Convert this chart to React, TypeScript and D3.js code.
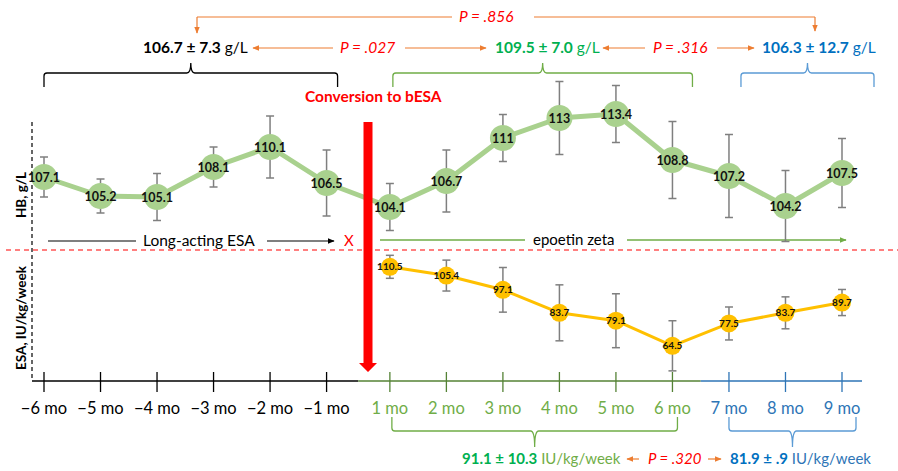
import React from "react";
import * as d3 from "d3";

const monthLabels = ["−6 mo", "−5 mo", "−4 mo", "−3 mo", "−2 mo", "−1 mo", "1 mo", "2 mo", "3 mo", "4 mo", "5 mo", "6 mo", "7 mo", "8 mo", "9 mo"];
const monthPhase = ["pre", "pre", "pre", "pre", "pre", "pre", "p1", "p1", "p1", "p1", "p1", "p1", "p2", "p2", "p2"];
const hbValues = [107.1, 105.2, 105.1, 108.1, 110.1, 106.5, 104.1, 106.7, 111, 113, 113.4, 108.8, 107.2, 104.2, 107.5];
const hbErrors = [2.0, 1.7, 2.35, 2.0, 3.1, 3.3, 2.35, 3.1, 2.35, 3.65, 2.85, 3.85, 4.15, 3.55, 3.45];
const esaMonthIndex = [6, 7, 8, 9, 10, 11, 12, 13, 14];
const esaValues = [110.5, 105.4, 97.1, 83.7, 79.1, 64.5, 77.5, 83.7, 89.7];
const esaErrors = [6.7, 9, 13, 16.3, 15.7, 14.6, 9.6, 9.3, 7.6];

const W = 898;
const H = 471;
const FONT = "Lato, 'Open Sans', sans-serif";
const ORANGE = "#ed7d31";
const RED = "#ff0000";
const GREEN_TXT = "#00b050";
const GREEN_LIGHT = "#70ad47";
const GREEN_DARK = "#548235";
const BLUE_TXT = "#0070c0";
const BLUE_AX = "#2e75b6";
const BLUE_BR = "#5b9bd5";
const HB_COL = "#a9d18e";
const ESA_COL = "#ffc000";
const ERR_COL = "#7f7f7f";

const GAP = 0.12;
const pos = (i: number) => i + (i >= 6 ? GAP : 0);
const x = d3.scaleLinear().domain([0, 14 + GAP]).range([44, 842]);
const xi = (i: number) => x(pos(i));
const yHB = d3.scaleLinear().domain([100, 115]).range([248, 98]);
const yESA = d3.scaleLinear().domain([44, 120]).range([381, 250.5]);

const AXIS_Y = 381;
const phaseColor: Record<string, string> = { pre: "#000", p1: GREEN_DARK, p2: BLUE_AX };
const labelColor: Record<string, string> = { pre: "#000", p1: GREEN_LIGHT, p2: BLUE_AX };

function bracket(x1: number, x2: number, yLine: number, endLen: number, tipLen: number) {
  const xm = (x1 + x2) / 2;
  const r = 3 * Math.sign(endLen);
  const t = 4;
  return `M${x1},${yLine + endLen} L${x1},${yLine + r} Q${x1},${yLine} ${x1 + 3},${yLine} L${xm - t},${yLine} Q${xm},${yLine} ${xm},${yLine + tipLen} Q${xm},${yLine} ${xm + t},${yLine} L${x2 - 3},${yLine} Q${x2},${yLine} ${x2},${yLine + r} L${x2},${yLine + endLen}`;
}

export default function App() {
  const hbLine = d3.line<number>().x((_, i) => xi(i)).y((d) => yHB(d))(hbValues) || "";
  const esaLine = d3.line<number>().x((_, i) => xi(esaMonthIndex[i])).y((d) => yESA(d))(esaValues) || "";

  const xPreEnd = (xi(5) + xi(6)) / 2;
  const xP1End = (xi(11) + xi(12)) / 2;
  const xEnd = xi(14) + 20;

  const errBar = (cx: number, y1: number, y2: number, key: string) => (
    <g key={key} stroke={ERR_COL} strokeWidth={1.5}>
      <line x1={cx} x2={cx} y1={y1} y2={y2} />
      <line x1={cx - 4} x2={cx + 4} y1={y1} y2={y1} />
      <line x1={cx - 4} x2={cx + 4} y1={y2} y2={y2} />
    </g>
  );

  return (
    <svg width={W} height={H} style={{ position: "absolute", left: 0, top: 0, background: "#fff" }} fontFamily={FONT}>
      <defs>
        <marker id="arrO" viewBox="0 0 10 10" refX="9" refY="5" markerWidth="7" markerHeight="7" orient="auto-start-reverse" markerUnits="userSpaceOnUse">
          <path d="M0,1 L10,5 L0,9 z" fill={ORANGE} />
        </marker>
        <marker id="arrK" viewBox="0 0 10 10" refX="9" refY="5" markerWidth="7" markerHeight="7" orient="auto" markerUnits="userSpaceOnUse">
          <path d="M0,1 L10,5 L0,9 z" fill="#000" />
        </marker>
        <marker id="arrG" viewBox="0 0 10 10" refX="9" refY="5" markerWidth="7" markerHeight="7" orient="auto" markerUnits="userSpaceOnUse">
          <path d="M0,1 L10,5 L0,9 z" fill={GREEN_LIGHT} />
        </marker>
      </defs>

      {/* top P = .856 connector */}
      <g stroke={ORANGE} strokeWidth={1.2} fill="none">
        <path d="M197,17 H452" />
        <path d="M197,17 V33" markerEnd="url(#arrO)" />
        <path d="M534,17 H815" />
        <path d="M815,17 V31" markerEnd="url(#arrO)" />
        <line x1={333} y1={48} x2={253} y2={48} markerEnd="url(#arrO)" />
        <line x1={405} y1={48} x2={486} y2={48} markerEnd="url(#arrO)" />
        <line x1={645} y1={48} x2={603} y2={48} markerEnd="url(#arrO)" />
        <line x1={717} y1={48} x2={754} y2={48} markerEnd="url(#arrO)" />
      </g>
      <text x={459} y={22} fill={RED} fontStyle="italic" fontSize={15.5}>P = .856</text>
      <text x={340} y={53} fill={RED} fontStyle="italic" fontSize={15.5}>P = .027</text>
      <text x={653} y={53} fill={RED} fontStyle="italic" fontSize={15.5}>P = .316</text>

      <text x={143} y={53} fontSize={15.5} fill="#000">
        <tspan fontWeight="bold">106.7 ± 7.3</tspan><tspan> g/L</tspan>
      </text>
      <text x={495} y={53} fontSize={15.5} fill={GREEN_TXT}>
        <tspan fontWeight="bold">109.5 ± 7.0</tspan><tspan> g/L</tspan>
      </text>
      <text x={762} y={53} fontSize={15.5} fill={BLUE_TXT}>
        <tspan fontWeight="bold">106.3 ± 12.7</tspan><tspan> g/L</tspan>
      </text>

      {/* top brackets */}
      <path d={bracket(xi(0), xi(5) + 11, 73, 14, -10)} stroke="#000" strokeWidth={1.3} fill="none" />
      <path d={bracket(xi(6) + 3, xi(11) + 20, 73, 14, -10)} stroke={GREEN_LIGHT} strokeWidth={1.3} fill="none" />
      <path d={bracket(xi(12) + 12, xi(14) + 32, 73, 14, -10)} stroke={BLUE_BR} strokeWidth={1.3} fill="none" />

      <text x={305} y={102} fill={RED} fontWeight="bold" fontSize={15.5}>Conversion to bESA</text>

      {/* y axis dashed */}
      <line x1={32} x2={32} y1={122} y2={AXIS_Y} stroke="#000" strokeWidth={1.2} strokeDasharray="4,3" />
      <text transform={`translate(26,195) rotate(-90)`} textAnchor="middle" fontSize={13.5} fontWeight="bold" fill="#000">HB, g/L</text>
      <text transform={`translate(26,318) rotate(-90)`} textAnchor="middle" fontSize={13.5} fontWeight="bold" fill="#000">ESA, IU/kg/week</text>

      {/* red dashed separator */}
      <line x1={6} x2={898} y1={250} y2={250} stroke={RED} strokeWidth={1.2} strokeDasharray="5,4" />

      {/* long-acting ESA arrow */}
      <line x1={48} x2={136} y1={241} y2={241} stroke="#000" strokeWidth={1.2} />
      <text x={143} y={246} fontSize={15.5} fill="#000">Long-acting ESA</text>
      <line x1={267} x2={334} y1={241} y2={241} stroke="#000" strokeWidth={1.2} markerEnd="url(#arrK)" />
      <text x={344} y={246} fontSize={15} fill={RED}>X</text>

      {/* epoetin zeta arrow */}
      <line x1={380} x2={525} y1={240} y2={240} stroke={GREEN_LIGHT} strokeWidth={1.3} />
      <text x={533} y={245} fontSize={15} fill="#000">epoetin zeta</text>
      <line x1={627} x2={846} y1={240} y2={240} stroke={GREEN_LIGHT} strokeWidth={1.3} markerEnd="url(#arrG)" />

      {/* HB series */}
      {hbValues.map((v, i) => errBar(xi(i), yHB(v + hbErrors[i]), yHB(v - hbErrors[i]), "hbe" + i))}
      <path d={hbLine} stroke={HB_COL} strokeWidth={5} fill="none" strokeLinejoin="round" />
      {hbValues.map((v, i) => (
        <circle key={"hbc" + i} cx={xi(i)} cy={yHB(v)} r={13} fill={HB_COL} />
      ))}
      {hbValues.map((v, i) => (
        <text key={"hbt" + i} x={xi(i)} y={yHB(v) + 4.5} textAnchor="middle" fontSize={12.5} fontWeight="bold" fill="#111">{String(v)}</text>
      ))}

      {/* ESA series */}
      {esaValues.map((v, i) => errBar(xi(esaMonthIndex[i]), yESA(v + esaErrors[i]), yESA(v - esaErrors[i]), "ese" + i))}
      <path d={esaLine} stroke={ESA_COL} strokeWidth={3} fill="none" strokeLinejoin="round" />
      {esaValues.map((v, i) => (
        <circle key={"esc" + i} cx={xi(esaMonthIndex[i])} cy={yESA(v)} r={9} fill={ESA_COL} />
      ))}
      {esaValues.map((v, i) => (
        <text key={"est" + i} x={xi(esaMonthIndex[i])} y={yESA(v) + 3.5} textAnchor="middle" fontSize={10} fontWeight="bold" fill="#111">{String(v)}</text>
      ))}

      {/* big red conversion arrow */}
      <path d="M363.5,122 H372.5 V363 H377 L368,372 L359,363 H363.5 Z" fill={RED} />

      {/* x axis */}
      <line x1={32} x2={xPreEnd} y1={AXIS_Y} y2={AXIS_Y} stroke="#000" strokeWidth={1.3} />
      <line x1={xPreEnd} x2={xP1End} y1={AXIS_Y} y2={AXIS_Y} stroke={GREEN_DARK} strokeWidth={1.3} />
      <line x1={xP1End} x2={xEnd} y1={AXIS_Y} y2={AXIS_Y} stroke={BLUE_AX} strokeWidth={1.3} />
      {monthLabels.map((m, i) => (
        <g key={"tk" + i}>
          <line x1={xi(i)} x2={xi(i)} y1={AXIS_Y - 9} y2={AXIS_Y + 11} stroke={phaseColor[monthPhase[i]]} strokeWidth={1.3} />
          <text x={xi(i)} y={414} textAnchor="middle" fontSize={16.5} fill={labelColor[monthPhase[i]]}>{m}</text>
        </g>
      ))}

      {/* bottom brackets */}
      <path d={bracket(xi(6) + 2, xi(11) + 5, 431, -14, 16)} stroke={GREEN_LIGHT} strokeWidth={1.3} fill="none" />
      <path d={bracket(xi(12), xi(14) + 14, 431, -14, 16)} stroke={BLUE_BR} strokeWidth={1.3} fill="none" />

      <text x={462} y={464} fontSize={15} fill={GREEN_TXT}>
        <tspan fontWeight="bold">91.1 ± 10.3</tspan><tspan fill={GREEN_LIGHT}> IU/kg/week</tspan>
      </text>
      <line x1={639} x2={627} y1={459} y2={459} stroke={ORANGE} strokeWidth={1.2} markerEnd="url(#arrO)" />
      <text x={648} y={464} fill={RED} fontStyle="italic" fontSize={15}>P = .320</text>
      <line x1={708} x2={721} y1={459} y2={459} stroke={ORANGE} strokeWidth={1.2} markerEnd="url(#arrO)" />
      <text x={730} y={464} fontSize={15} fill={BLUE_TXT}>
        <tspan fontWeight="bold">81.9 ± .9</tspan><tspan fill={BLUE_AX}> IU/kg/week</tspan>
      </text>
    </svg>
  );
}
